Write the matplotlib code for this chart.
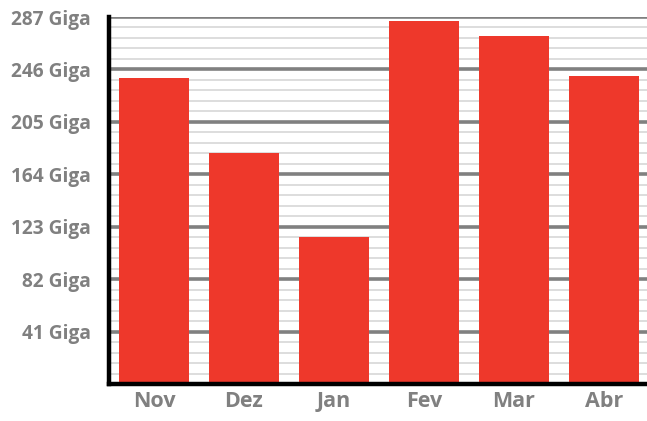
import matplotlib.pyplot as plt
import numpy as np

# dados
meses = ["Nov", "Dez", "Jan", "Fev", "Mar", "Abr"]
valores = [239, 181, 115, 284, 272, 241]
marcas = [41, 82, 123, 164, 205, 246, 287]
rotulos = ["41 Giga", "82 Giga", "123 Giga", "164 Giga", "205 Giga", "246 Giga", "287 Giga"]

plt.rcParams['font.family'] = ['Open Sans', 'DejaVu Sans']

fig = plt.figure(figsize=(6.47, 4.21), dpi=100)
ax = fig.add_axes([109/647, 1 - 384/421, 1 - 109/647, (384 - 17)/421])

x = np.arange(len(meses))
ax.bar(x, valores, width=0.78, color='#ee382b', zorder=3)

ax.set_ylim(0, 287)
ax.set_xlim(-0.5, 5.48)

# grade principal e secundaria
ax.set_yticks(marcas)
ax.set_yticklabels(rotulos)
ax.set_yticks(np.arange(0, 287, 8.2), minor=True)
ax.grid(axis='y', which='major', color='#808080', linewidth=2.6, zorder=1)
ax.grid(axis='y', which='minor', color='#dadada', linewidth=1.3, zorder=0)
ax.tick_params(axis='y', which='both', length=0, pad=13, labelsize=13.8, labelcolor='#808080')

ax.set_xticks(x)
ax.set_xticklabels(meses)
ax.tick_params(axis='x', length=0, pad=5, labelsize=15.5, labelcolor='#808080')
for t in ax.get_xticklabels() + ax.get_yticklabels():
    t.set_fontweight('bold')

for s in ['top', 'right']:
    ax.spines[s].set_visible(False)
for s in ['left', 'bottom']:
    ax.spines[s].set_linewidth(3.2)
    ax.spines[s].set_color('black')
    ax.spines[s].set_zorder(4)

fig.savefig("out.png", dpi=100)
